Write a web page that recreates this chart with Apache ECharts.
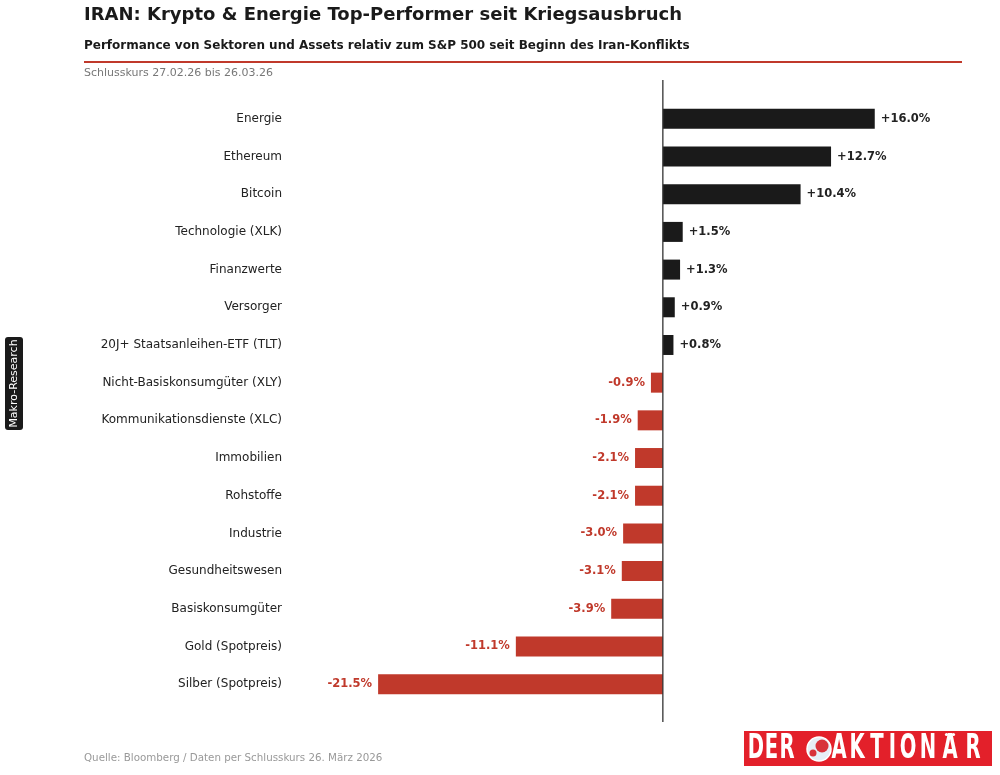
<!DOCTYPE html>
<html><head><meta charset="utf-8">
<script src="https://cdn.jsdelivr.net/npm/echarts@6/dist/echarts.min.js"></script>
<style>html,body{margin:0;padding:0;background:#fff}#c{width:1000px;height:775px}</style>
</head><body><div id="c"></div>
<script>
const categories = ["Energie","Ethereum","Bitcoin","Technologie (XLK)","Finanzwerte","Versorger","20J+ Staatsanleihen-ETF (TLT)","Nicht-Basiskonsumgüter (XLY)","Kommunikationsdienste (XLC)","Immobilien","Rohstoffe","Industrie","Gesundheitswesen","Basiskonsumgüter","Gold (Spotpreis)","Silber (Spotpreis)"];
const values = [16.0,12.7,10.4,1.5,1.3,0.9,0.8,-0.9,-1.9,-2.1,-2.1,-3.0,-3.1,-3.9,-11.1,-21.5];
const POS = '#1a1a1a', NEG = '#c0392b';
const F = 'DejaVu Sans';
const chart = echarts.init(document.getElementById('c'), null, {renderer:'canvas'});
const fmt = v => (v>0?'+':'') + v.toFixed(1) + '%';

const logoLetters = [['D',756],['E',771.5],['R',787],['A',839],['K',857],['T',877],['I',892.5],['O',908],['N',928],['A',950],['R',973]];
const logo = logoLetters.map((l,i)=>({type:'text', id:'lg'+i, x:l[1], y:749.5, scaleX:0.66,
  style:{text:l[0], font:'bold 33px "DejaVu Sans Condensed"', fill:'#fff', align:'center', verticalAlign:'middle'}}));
logo.push({type:'circle', id:'um1', shape:{cx:946.5, cy:734.5, r:1.6}, style:{fill:'#fff'}});
logo.push({type:'circle', id:'um2', shape:{cx:953.5, cy:734.5, r:1.6}, style:{fill:'#fff'}});

chart.setOption({
  animation:false,
  backgroundColor:'#fff',
  grid:{left:345, width:543, top:100, height:603, containLabel:false},
  xAxis:{type:'value', min:-24, max:17, show:false, splitLine:{show:false}},
  yAxis:{type:'category', data:categories, inverse:true,
    axisLine:{show:false}, axisTick:{show:false},
    axisLabel:{margin:63, fontFamily:F, fontSize:12, color:'#222'}},
  series:[{type:'bar', barWidth:20,
    data: values.map(v=>({value:v, itemStyle:{color: v>=0?POS:NEG},
      label:{show:true, position: v>=0?'right':'left', distance:6, formatter: fmt(v),
        color: v>=0?'#222':NEG, fontFamily:F, fontWeight:'bold', fontSize:11.5}}))
  }],
  graphic:[
    {type:'text', id:'t1', left:84, top:6, style:{text:'IRAN: Krypto & Energie Top-Performer seit Kriegsausbruch', font:'bold 18px "DejaVu Sans"', fill:'#1a1a1a'}},
    {type:'text', id:'t2', left:84, top:40, style:{text:'Performance von Sektoren und Assets relativ zum S&P 500 seit Beginn des Iran-Konflikts', font:'bold 12px "DejaVu Sans"', fill:'#1a1a1a'}},
    {type:'line', id:'rl', shape:{x1:84,y1:62,x2:962,y2:62}, style:{stroke:NEG, lineWidth:2}},
    {type:'text', id:'t3', left:84, top:68, style:{text:'Schlusskurs 27.02.26 bis 26.03.26', font:'11px "DejaVu Sans"', fill:'#777'}},
    {type:'text', id:'t4', left:84, top:753, style:{text:'Quelle: Bloomberg / Daten per Schlusskurs 26. März 2026', font:'10.3px "DejaVu Sans"', fill:'#999'}},
    {type:'rect', id:'bg1', shape:{x:5,y:337,width:18,height:93,r:3}, style:{fill:'#1a1a1a'}},
    {type:'text', id:'bt', x:14, y:383.5, rotation:Math.PI/2, style:{text:'Makro-Research', font:'11px "DejaVu Sans"', fill:'#fff', align:'center', verticalAlign:'middle'}},
    {type:'rect', id:'lgbg', shape:{x:744,y:731,width:248,height:35}, style:{fill:'#e3202a'}},
    {type:'circle', id:'gl1', shape:{cx:819,cy:749,r:12}, style:{fill:'#e6eef6', stroke:'#fff', lineWidth:1.5}},
    {type:'circle', id:'gl2', shape:{cx:822,cy:746,r:6.5}, style:{fill:'#d8323a'}},
    {type:'circle', id:'gl3', shape:{cx:813,cy:753,r:3.5}, style:{fill:'#d8323a'}}
  ].concat(logo)
});
const x0 = chart.convertToPixel({gridIndex:0}, [0, 0])[0];
chart.setOption({graphic:[{type:'line', id:'zeroline', z:10, shape:{x1:x0,y1:80,x2:x0,y2:722}, style:{stroke:'#333', lineWidth:1.3}}]});
</script></body></html>
